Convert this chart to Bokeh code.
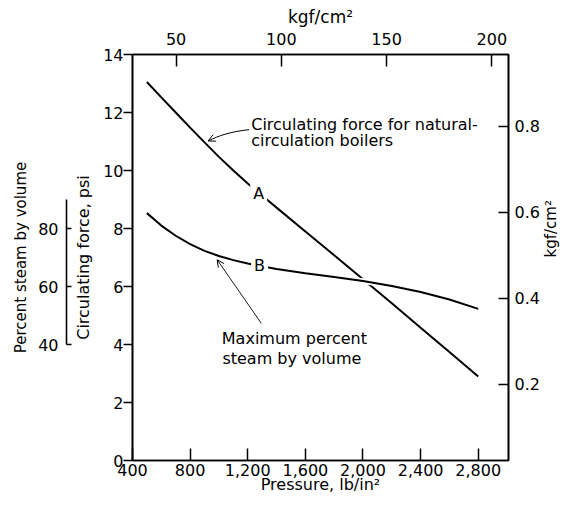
import math
from bokeh.plotting import figure
from bokeh.models import (Range1d, LinearAxis, FixedTicker, NumeralTickFormatter,
                          Label, Arrow, OpenHead, Title)
from bokeh.embed import file_html
from bokeh.resources import INLINE

# ---------------- data ----------------
pressure_psi = [500, 600, 700, 800, 900, 1000, 1100, 1200, 1400, 1600, 1800, 2000, 2200, 2400, 2600, 2800]
# Curve A: circulating force, psi
circ_force_psi = [13.05, 12.52, 12.0, 11.48, 10.97, 10.47, 10.0, 9.55, 8.72, 7.9, 7.08, 6.25, 5.42, 4.58, 3.74, 2.9]
# Curve B: maximum percent steam by volume
max_steam_pct = [85.3, 81.0, 77.5, 74.6, 72.3, 70.5, 69.1, 67.9, 66.0, 64.6, 63.3, 61.9, 60.2, 58.1, 55.5, 52.3]

psi_ticks = [400, 800, 1200, 1600, 2000, 2400, 2800]
force_ticks = [0, 2, 4, 6, 8, 10, 12, 14]
kgf_top_ticks = [50, 100, 150, 200]
kgf_right_ticks = [0.2, 0.4, 0.6, 0.8]
pct_ticks = [40, 60, 80]

FONT = "DejaVu Sans"
TICK_FS = "16px"
TITLE_FS = "16px"

p = figure(width=571, height=502,
           x_range=Range1d(400, 3010), y_range=Range1d(0, 14),
           output_backend="svg", toolbar_location=None,
           min_border_left=132, min_border_right=59,
           min_border_top=54, min_border_bottom=42)
p.extra_x_ranges = {"kg": Range1d(29.3, 207.9)}
p.extra_y_ranges = {"kgr": Range1d(0.023, 0.967), "pct": Range1d(0, 140)}

p.xgrid.visible = False
p.ygrid.visible = False
p.outline_line_color = "black"
p.outline_line_width = 1.6
p.background_fill_color = "white"
p.border_fill_color = "white"


def style(ax):
    ax.axis_line_color = "black"
    ax.axis_line_width = 1.6
    ax.major_tick_line_color = "black"
    ax.major_tick_line_width = 1.5
    ax.minor_tick_line_color = None
    ax.major_label_text_font = FONT
    ax.major_label_text_font_size = TICK_FS
    ax.major_label_text_color = "black"
    ax.axis_label_text_font = FONT
    ax.axis_label_text_font_size = TITLE_FS
    ax.axis_label_text_font_style = "normal"
    ax.axis_label_text_color = "black"


# bottom axis (psi)
xa = p.xaxis[0]
style(xa)
xa.ticker = FixedTicker(ticks=psi_ticks)
xa.formatter = NumeralTickFormatter(format="0,0")
xa.major_tick_in = 12
xa.major_tick_out = 0
xa.major_label_standoff = 3
xa.axis_label = "Pressure, lb/in²"
xa.axis_label_standoff = -4

# left main axis (psi force)
ya = p.yaxis[0]
style(ya)
ya.ticker = FixedTicker(ticks=force_ticks)
ya.major_tick_in = 0
ya.major_tick_out = 9
ya.major_label_standoff = 0
ya.axis_label = None

# title of the main left scale, with padding that separates the two left scales
lt = Title(text="Circulating force, psi", align="center", vertical_align="middle",
           text_font=FONT, text_font_size=TITLE_FS, text_font_style="normal",
           text_color="black", standoff=13)
p.add_layout(lt, "left")

# percent steam axis
pa = LinearAxis(y_range_name="pct", bounds=(40, 90))
style(pa)
pa.axis_label_text_font_size = "15px"
pa.ticker = FixedTicker(ticks=pct_ticks)
pa.major_tick_in = 5
pa.major_tick_out = 0
pa.major_label_standoff = 8
pa.axis_label = "Percent steam by volume"
pa.axis_label_standoff = 5
p.add_layout(pa, "left")

# top axis kgf/cm2
ta = LinearAxis(x_range_name="kg")
style(ta)
ta.axis_label_text_font_size = "17px"
ta.ticker = FixedTicker(ticks=kgf_top_ticks)
ta.major_tick_in = 12
ta.major_tick_out = 0
ta.major_label_standoff = 10
ta.axis_label = "kgf/cm²"
ta.axis_label_standoff = 3
p.add_layout(ta, "above")

# right axis kgf/cm2
ra = LinearAxis(y_range_name="kgr")
style(ra)
ra.axis_label_text_font_size = "15px"
ra.ticker = FixedTicker(ticks=kgf_right_ticks)
ra.major_tick_in = 10
ra.major_tick_out = 0
ra.major_label_standoff = 6
ra.axis_label = "kgf/cm²"
ra.axis_label_standoff = 8
if hasattr(ra, "axis_label_orientation"):
    ra.axis_label_orientation = math.pi / 2
p.add_layout(ra, "right")

# ---------------- curves ----------------
p.line(pressure_psi, circ_force_psi, line_color="black", line_width=2)
p.line(pressure_psi, max_steam_pct, y_range_name="pct", line_color="white", line_width=5.5)
p.line(pressure_psi, max_steam_pct, y_range_name="pct", line_color="black", line_width=2)

# curved leader to curve A
p.bezier(x0=[1210], y0=[11.41], x1=[925], y1=[11.02], cx0=[1071], cy0=[11.33], cx1=[1000], cy1=[11.2],
         line_color="black", line_width=1)
p.add_layout(Arrow(end=OpenHead(size=7, line_width=1, line_color="black"),
                   x_start=969, y_start=11.12, x_end=925, y_end=11.02, line_color=None))
# leader to curve B
p.add_layout(Arrow(end=OpenHead(size=7, line_width=1, line_color="black"),
                   x_start=1294, y_start=4.73, x_end=988, y_end=6.92,
                   line_color="black", line_width=0.9))

# ---------------- annotations ----------------
def lab(x, y, t, **kw):
    opts = dict(text_font=FONT, text_font_size="16px", text_color="black",
                text_align="left", text_baseline="alphabetic")
    opts.update(kw)
    p.add_layout(Label(x=x, y=y, text=t, **opts))


lab(1224, 11.60, "Circulating force for natural-")
lab(1224, 11.03, "circulation boilers")
lab(1020, 4.20, "Maximum percent")
lab(1024, 3.51, "steam by volume")
lab(1276, 9.22, "A", text_align="center", text_baseline="middle",
    background_fill_color="white", padding=3)
lab(1282, 6.72, "B", text_align="center", text_baseline="middle",
    background_fill_color="white", padding=3)

open("out.html", "w").write(file_html(p, INLINE))
